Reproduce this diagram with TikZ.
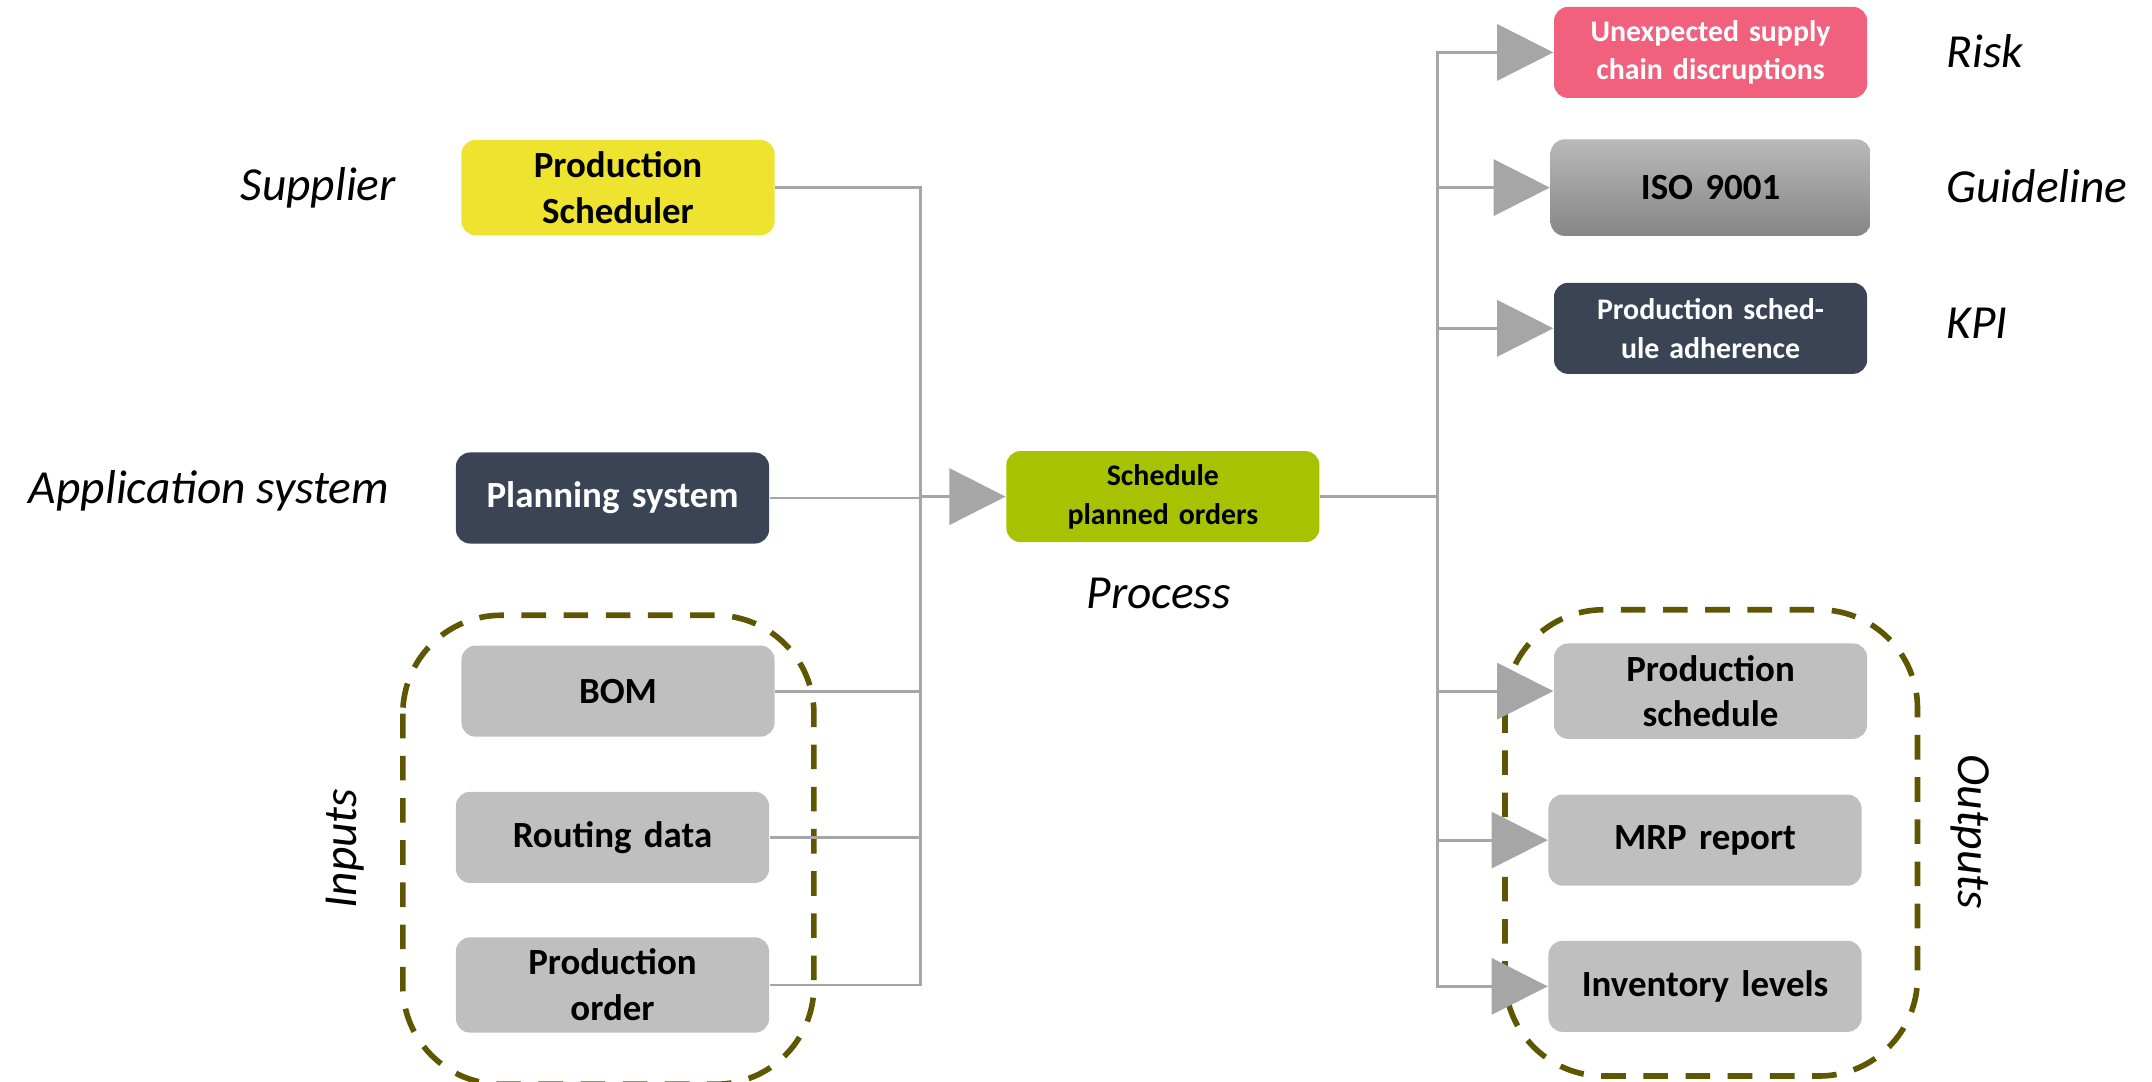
\documentclass[tikz,border=0pt]{standalone}
\usepackage{fontspec}
\setmainfont{Carlito}
\usetikzlibrary{arrows.meta, positioning}
\tikzset{>={Triangle[length=8pt,width=8pt]}}
\definecolor{ylw}{RGB}{238,228,48}
\definecolor{navy}{RGB}{58,68,85}
\definecolor{lime}{RGB}{166,194,0}
\definecolor{rosy}{RGB}{241,96,124}
\definecolor{lgray}{RGB}{191,191,191}
\definecolor{olive}{RGB}{94,86,0}
\definecolor{wire}{RGB}{166,166,166}
\begin{document}
\begin{tikzpicture}[x=0.013795cm, y=-0.013795cm,
  box/.style={rounded corners=4pt, minimum width=227*0.013795cm, minimum height=66*0.013795cm,
    align=center, font=\bfseries\fontsize{10.5}{13}\selectfont, text width=190*0.013795cm},
  small/.style={box, font=\bfseries\fontsize{8.5}{11}\selectfont, text=white},
  lbl/.style={font=\itshape\fontsize{13.5}{16}\selectfont},
  group/.style={draw=olive, line width=1.6pt, dash pattern=on 7pt off 5pt, rounded corners=28pt},
  wire/.style={draw=wire, line width=0.8pt}]

\useasboundingbox (0,0) rectangle (1560,784);

% groups
\draw[group] (292,446) rectangle (590,786);
\draw[group] (1091,442) rectangle (1390,780);

% inputs
\node[box, fill=ylw] (sched) at (448,136) {Production Scheduler};
\node[box, fill=navy, text=white] (plan) at (444,361) {Planning system};
\node[box, fill=lgray] (bom) at (448,501) {BOM};
\node[box, fill=lgray] (route) at (444,607) {Routing data};
\node[box, fill=lgray] (order) at (444,714) {Production order};

% process
\node[small, fill=lime, text=black] (proc) at (843,360) {Schedule planned orders};

% outputs
\node[small, fill=rosy] (risk) at (1240,38) {Unexpected supply chain discruptions};
\node[box, top color=gray!55, bottom color=gray!95, minimum width=232*0.013795cm, minimum height=70*0.013795cm] (iso) at (1240,136) {ISO 9001};
\node[small, fill=navy] (kpi) at (1240,238) {Production schedule adherence};
\node[box, fill=lgray] (psch) at (1240,501) {Production schedule};
\node[box, fill=lgray] (mrp) at (1236,609) {MRP report};
\node[box, fill=lgray] (inv) at (1236,715) {Inventory levels};

% labels
\node[lbl, anchor=east] at (296,136) {Supplier};
\node[lbl, anchor=east] at (291,356) {Application system};
\node[lbl] at (840,430) {Process};
\node[lbl, rotate=90] at (250,615) {Inputs};
\node[lbl, rotate=-90] at (1428,603) {Outputs};
\node[lbl, anchor=west] at (1402,37) {Risk};
\node[lbl, anchor=west] at (1402,135) {Guideline};
\node[lbl, anchor=west] at (1402,234) {KPI};

% connectors
\coordinate (busL) at (667,360);
\coordinate (busR) at (1042,360);
\foreach \n in {sched,plan,bom,route,order}
  \draw[wire] (\n.east) -| (busL);
\draw[wire, ->, >={Triangle[length=16pt,width=16pt]}, color=wire] (busL) -- (proc.west);
\draw[wire] (proc.east) -- (busR);
\foreach \n in {risk,iso,kpi,psch,mrp,inv}
  \draw[wire, ->, >={Triangle[length=16pt,width=16pt]}, color=wire] (busR) |- (\n.west);

\end{tikzpicture}
\end{document}
